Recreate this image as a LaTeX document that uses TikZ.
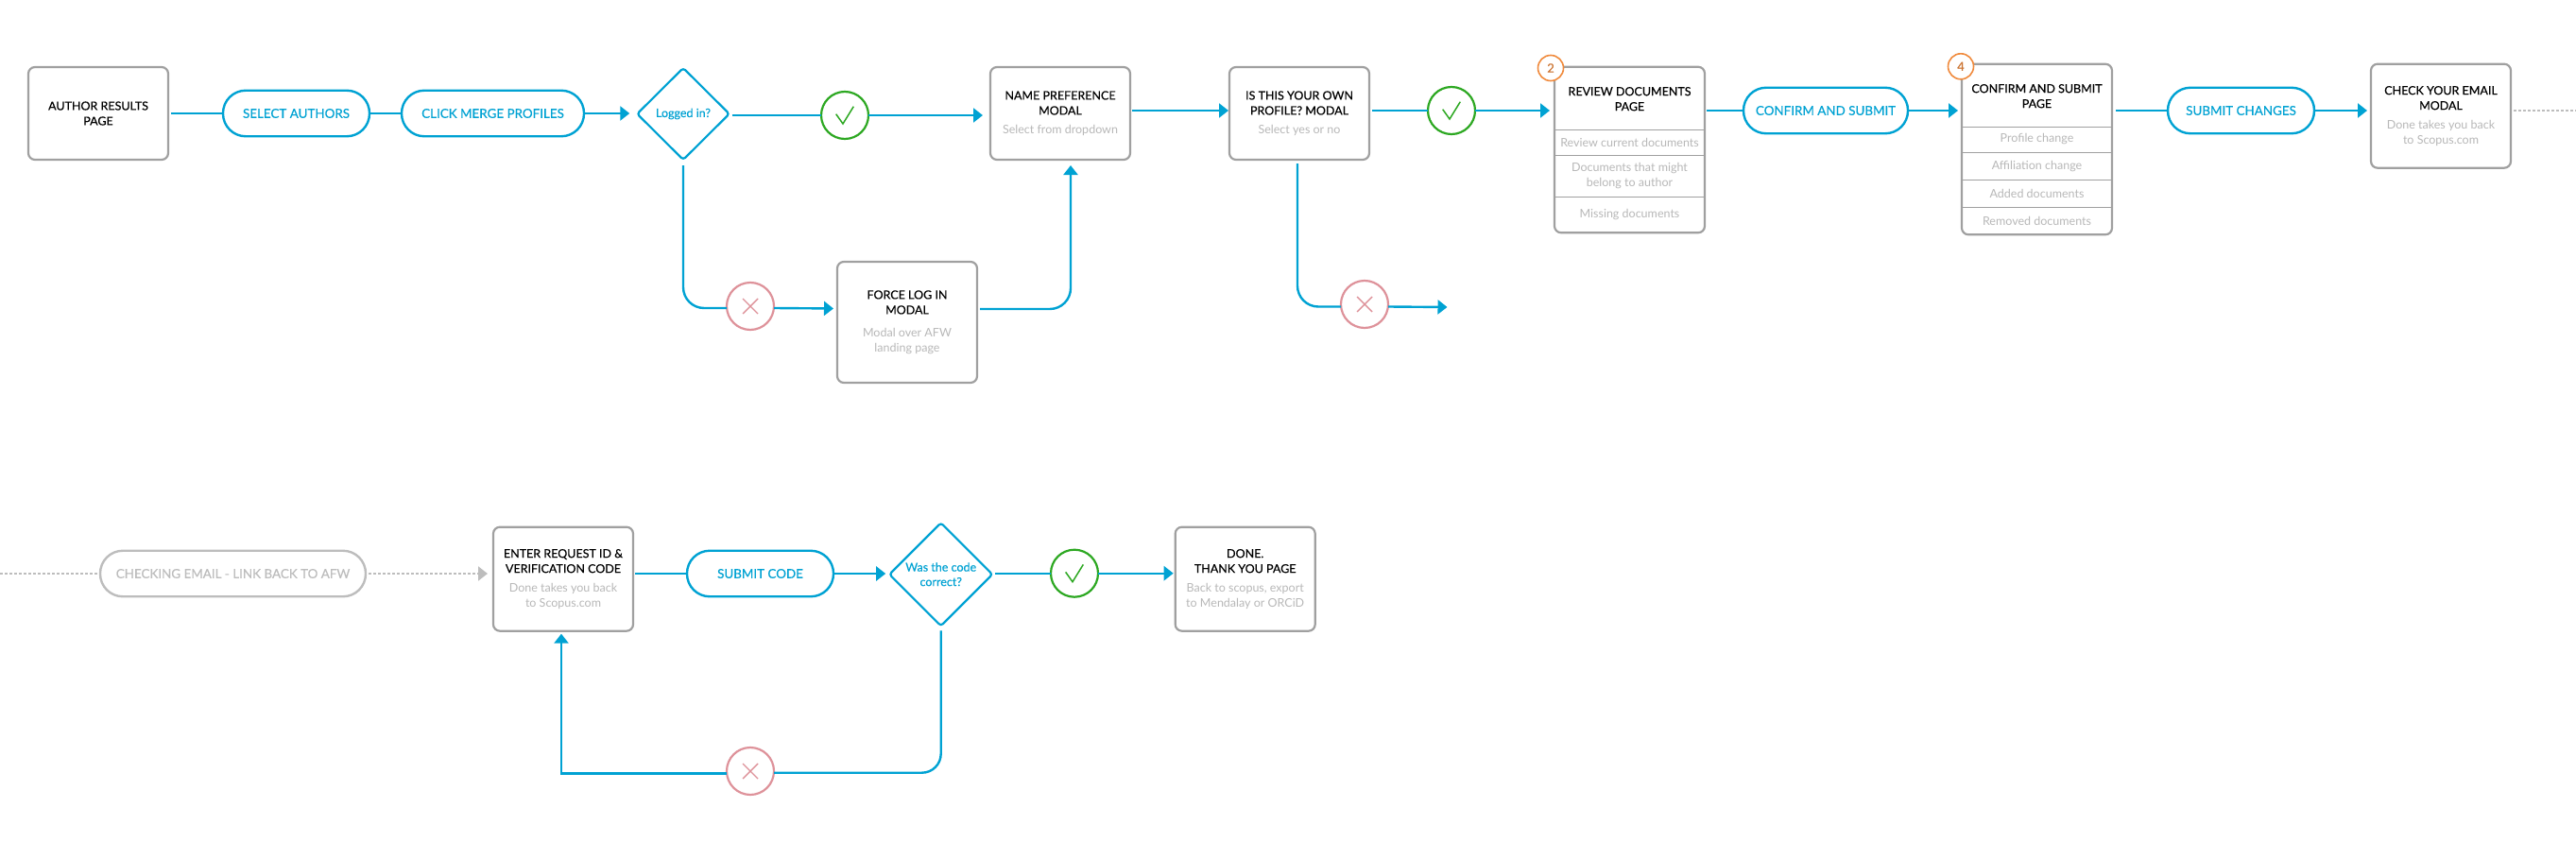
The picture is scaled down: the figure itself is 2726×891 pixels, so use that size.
\documentclass[tikz,border=0pt]{standalone}
\usepackage{fontspec}
\setmainfont{Lato}
\newfontfamily\medfont[FakeBold=0.25]{Lato}
\usetikzlibrary{arrows.meta,shapes.geometric}
\definecolor{fblue}{HTML}{00A2D3}
\definecolor{bgray}{HTML}{A0A0A0}
\definecolor{subgray}{HTML}{B8B8B8}
\definecolor{pillgray}{HTML}{BDBDBD}
\definecolor{okgreen}{HTML}{2DA822}
\definecolor{nopink}{HTML}{DE929A}
\definecolor{badgeor}{HTML}{F08A3C}
\newcommand{\tline}[1]{{\medfont\color{black}#1}}
\newcommand{\sline}[1]{{\color{subgray}#1}}
\tikzset{
  pagebox/.style={draw=bgray,line width=2.2pt,rounded corners=7pt,fill=white,inner sep=0pt,outer sep=0pt,align=center,minimum width=148pt,minimum height=98pt,font=\fontsize{12.5}{16}\selectfont},
  pill/.style={draw=fblue,line width=2.4pt,rounded corners=24pt,fill=white,inner sep=0pt,outer sep=0pt,minimum height=48.5pt,text=fblue,font=\medfont\fontsize{13.4}{16}\selectfont},
  graypill/.style={pill,draw=pillgray,text=pillgray},
  decide/.style={diamond,draw=fblue,line width=2.2pt,rounded corners=3pt,fill=white,inner sep=0pt,outer sep=0pt,align=center,text=fblue,font=\medfont\fontsize{12.5}{15.5}\selectfont},
  yes/.style={circle,draw=okgreen,line width=2.2pt,fill=white,minimum size=50pt,inner sep=0pt,outer sep=0pt},
  no/.style={circle,draw=nopink,line width=2.2pt,fill=white,minimum size=50pt,inner sep=0pt,outer sep=0pt},
  badge/.style={circle,draw=badgeor,line width=1.6pt,fill=white,minimum size=27pt,inner sep=0pt,outer sep=0pt,text=badgeor!85!black,font=\medfont\fontsize{13}{15}\selectfont},
  rowtxt/.style={inner sep=0pt,align=center,font=\fontsize{12.5}{16}\selectfont,text=subgray},
  headtxt/.style={inner sep=0pt,align=center,font=\fontsize{12.5}{16}\selectfont},
  flow/.style={draw=fblue,line width=2.4pt},
  flowa/.style={flow,-{Triangle[length=10pt,width=15pt]},shorten >=4pt},
  dots/.style={draw=pillgray,line width=2pt,dash pattern=on 3pt off 2pt},
  divider/.style={draw=bgray,line width=1.4pt},
  glyphok/.style={draw=okgreen,line width=1.5pt},
  glyphno/.style={draw=nopink,line width=1.4pt}
}
\begin{document}
\begin{tikzpicture}[x=1pt,y=-1pt]
\useasboundingbox (0,0) rectangle (2726,891);
% row one
\node[pagebox] (author) at (104,120) {\tline{AUTHOR RESULTS}\\\tline{PAGE}};
\node[pill,minimum width=155pt] (sel) at (313.5,120) {SELECT AUTHORS};
\node[pill,minimum width=193pt] (merge) at (521.5,120) {CLICK MERGE PROFILES};
\node[decide,minimum width=97.5pt,minimum height=97pt] (logged) at (723,120.5) {Logged in?};
\node[yes] (c1) at (894,122) {};
\node[no] (x1) at (794,324) {};
\node[pagebox,minimum height=128pt] (force) at (960,341) {\tline{FORCE LOG IN}\\\tline{MODAL}\\[8pt]\sline{Modal over AFW}\\\sline{landing page}};
\node[pagebox] (name) at (1122,120) {\tline{NAME PREFERENCE}\\\tline{MODAL}\\[4pt]\sline{Select from dropdown}};
\node[pagebox] (own) at (1375,120) {\tline{IS THIS YOUR OWN}\\\tline{PROFILE? MODAL}\\[4pt]\sline{Select yes or no}};
\node[yes] (c2) at (1536,117) {};
\node[no] (x2) at (1444,322) {};
\coordinate (stub) at (1531.5,325);
% review box
\node[pagebox,minimum width=159pt,minimum height=175.5pt] (review) at (1724.5,158.5) {};
\node[headtxt] (reviewt) at (1724.5,104.7) {\tline{REVIEW DOCUMENTS}\\\tline{PAGE}};
\node[rowtxt] (r1) at (1724.5,150.5) {Review current documents};
\node[rowtxt] (r2) at (1724.5,186.5) {Documents that might\\belong to author};
\node[rowtxt] (r3) at (1724.5,227) {Missing documents};
\draw[divider] (review.west |- 0,137.3) -- (review.east |- 0,137.3);
\draw[divider] (review.west |- 0,164.3) -- (review.east |- 0,164.3);
\draw[divider] (review.west |- 0,208.3) -- (review.east |- 0,208.3);
\node[badge] (b2) at (1641,72) {2};
\node[pill,minimum width=174pt] (conf) at (1932,117) {CONFIRM AND SUBMIT};
% confirm box
\node[pagebox,minimum width=159pt,minimum height=180.5pt] (confirm) at (2155.5,158) {};
\node[headtxt] (confirmt) at (2155.5,101.7) {\tline{CONFIRM AND SUBMIT}\\\tline{PAGE}};
\node[rowtxt] (k1) at (2155.5,147.5) {Profile change};
\node[rowtxt] (k2) at (2155.5,176.5) {Affiliation change};
\node[rowtxt] (k3) at (2155.5,205) {Added documents};
\node[rowtxt] (k4) at (2155.5,234) {Removed documents};
\draw[divider] (confirm.west |- 0,134.3) -- (confirm.east |- 0,134.3);
\draw[divider] (confirm.west |- 0,161.3) -- (confirm.east |- 0,161.3);
\draw[divider] (confirm.west |- 0,190.7) -- (confirm.east |- 0,190.7);
\draw[divider] (confirm.west |- 0,219.3) -- (confirm.east |- 0,219.3);
\node[badge] (b4) at (2075,70.3) {4};
\node[pill,minimum width=155pt] (subch) at (2371.5,117) {SUBMIT CHANGES};
\node[pagebox,minimum height=110pt] (check) at (2583,122.7) {\tline{CHECK YOUR EMAIL}\\\tline{MODAL}\\[4pt]\sline{Done takes you back}\\\sline{to Scopus.com}};
\coordinate (offr) at (2726,116.7);
% row two
\coordinate (offl) at (0,606.7);
\node[graypill,minimum width=281pt] (mail) at (246.5,607) {CHECKING EMAIL - LINK BACK TO AFW};
\node[pagebox,minimum height=110pt] (enter) at (596,612.7) {\tline{ENTER REQUEST ID \&}\\\tline{VERIFICATION CODE}\\[4pt]\sline{Done takes you back}\\\sline{to Scopus.com}};
\node[pill,minimum width=155pt] (subc) at (804.5,607) {SUBMIT CODE};
\node[decide,minimum width=109pt,minimum height=109pt] (code) at (995.7,607.8) {Was the code\\correct?};
\node[yes] (c3) at (1137,606.7) {};
\node[pagebox,minimum height=110pt] (done) at (1317.7,612.7) {\tline{DONE.}\\\tline{THANK YOU PAGE}\\[4pt]\sline{Back to scopus, export}\\\sline{to Mendalay or ORCiD}};
\node[no] (x3) at (794,816) {};
% glyphs
\foreach \c in {c1,c2,c3}
  \draw[glyphok] ([shift={(-9.3pt,1.3pt)}]\c.center) -- ([shift={(-2pt,-9pt)}]\c.center) -- ([shift={(9.3pt,9.3pt)}]\c.center);
\foreach \c in {x1,x2,x3} {
  \draw[glyphno] ([shift={(-8pt,8pt)}]\c.center) -- ([shift={(8pt,-8pt)}]\c.center);
  \draw[glyphno] ([shift={(-8pt,-8pt)}]\c.center) -- ([shift={(8pt,8pt)}]\c.center);
}
% connectors
\draw[flow,shorten <=3pt] (author.east) -- (sel.west);
\draw[flow] (sel.east) -- (merge.west);
\draw[flowa,shorten >=8pt] (merge.east) -- (logged.west |- merge.east);
\draw[flow,shorten <=3pt] (logged.east |- c1.west) -- (c1.west);
\draw[flowa,shorten >=8pt] (c1.east) -- (name.west |- c1.east);
\draw[flow,rounded corners=22pt,shorten <=6pt] (logged.south) |- ([yshift=-2pt]x1.west);
\draw[flowa] ([yshift=-2pt]x1.east) -- (force.west |- 0,326.5);
\draw[flowa,rounded corners=22pt,shorten <=3pt,shorten >=6pt] ([yshift=14pt]force.east) -| ([xshift=11pt]name.south);
\draw[flowa,shorten <=2pt,shorten >=1pt] ([yshift=3pt]name.east) -- ([yshift=3pt]own.west);
\draw[flow,shorten <=3pt] (own.east |- c2.west) -- (c2.west);
\draw[flowa,shorten >=5pt] (c2.east) -- (review.west |- c2.east);
\draw[flow,rounded corners=22pt,shorten <=4pt] ([xshift=-2pt]own.south) |- ([yshift=-2.5pt]x2.west);
\draw[flowa,shorten >=0pt] ([yshift=-2.5pt]x2.east) -- (stub);
\draw[flow,shorten <=2pt] (review.east |- conf.west) -- (conf.west);
\draw[flowa] (conf.east) -- (confirm.west |- conf.east);
\draw[flow,shorten <=4pt] (confirm.east |- subch.west) -- (subch.west);
\draw[flowa] (subch.east) -- (check.west |- subch.east);
\draw[dots,shorten <=3pt] (check.east |- offr) -- (offr);
\draw[dots] (offl) -- (mail.west |- offl);
\draw[dots,-{Triangle[length=10pt,width=15pt]},shorten <=3pt,shorten >=6pt] (mail.east) -- (enter.west |- mail.east);
\draw[flow,shorten <=2pt] (enter.east |- subc.west) -- (subc.west);
\draw[flowa] (subc.east) -- (code.west |- subc.east);
\draw[flow,shorten <=3pt] (code.east |- c3.west) -- (c3.west);
\draw[flowa,shorten >=2pt] (c3.east) -- (done.west |- c3.east);
\draw[flow,rounded corners=20pt,shorten <=5pt] (code.south) |- ([yshift=-1.7pt]x3.east);
\draw[flowa,shorten >=3pt] ([yshift=-2.5pt]x3.west) -| ([xshift=-2pt]enter.south);
\end{tikzpicture}
\end{document}
